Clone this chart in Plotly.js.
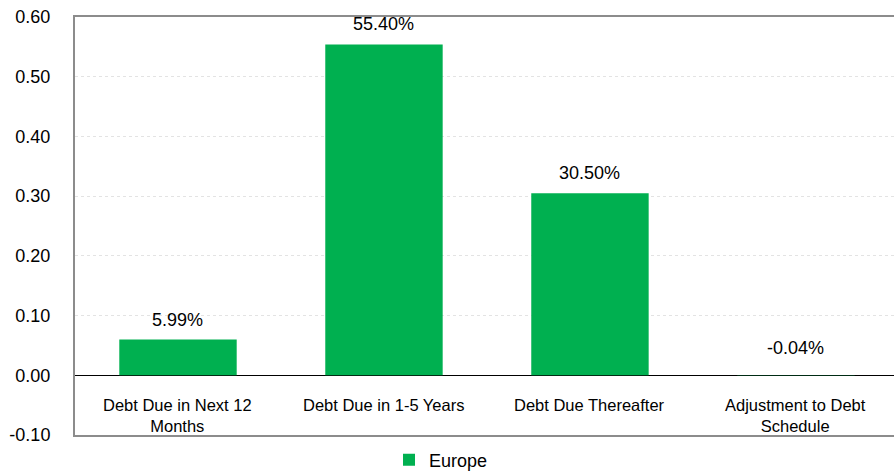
<!DOCTYPE html>
<html>
<head>
<meta charset="utf-8">
<script src="https://cdn.plot.ly/plotly-3.0.1.min.js"></script>
<style>html,body{margin:0;padding:0;background:#fff;}#chart{width:894px;height:474px;}</style>
</head>
<body>
<div id="chart"></div>
<script>
var categories = ["Debt Due in Next 12<br>Months", "Debt Due in 1-5 Years", "Debt Due Thereafter", "Adjustment to Debt<br>Schedule"];
var europe = [0.0599, 0.554, 0.305, -0.0004];
var labels = ["5.99%", "55.40%", "30.50%", "-0.04%"];
var yTicks = [-0.1, 0, 0.1, 0.2, 0.3, 0.4, 0.5, 0.6];
var yTickText = ["-0.10", "0.00", "0.10", "0.20", "0.30", "0.40", "0.50", "0.60"];

var xs = categories.map(function(c, i){ return i; });
var font = "Liberation Sans, Arial, sans-serif";

var trace = {
  type: "bar",
  x: xs,
  y: europe,
  name: "Europe",
  marker: {color: "#00B050"},
  hoverinfo: "none"
};

var annotations = [];
europe.forEach(function(v, i){
  annotations.push({
    x: i, y: Math.max(v, 0), xref: "x", yref: "y",
    text: labels[i], showarrow: false,
    yanchor: "bottom", yshift: v < 0 ? 15 : 8,
    font: {family: font, size: 18, color: "#000"}
  });
  annotations.push({
    x: i, y: 0, xref: "x", yref: "y",
    text: categories[i], showarrow: false,
    yanchor: "top", yshift: -19,
    font: {family: font, size: 16.5, color: "#000"}
  });
});

var layout = {
  width: 894, height: 474,
  margin: {l: 75, r: 0, t: 17, b: 39, autoexpand: false},
  paper_bgcolor: "#fff", plot_bgcolor: "#fff",
  bargap: 0.43,
  showlegend: true,
  legend: {orientation: "h", x: 0.3834, xanchor: "left", y: -0.06, yanchor: "middle",
           itemwidth: 30,
           font: {family: font, size: 18, color: "#000"}},
  xaxis: {
    range: [-0.5, 3.476], showticklabels: false, ticks: "",
    showgrid: false, zeroline: false,
    showline: true, linecolor: "#8c8c8c", linewidth: 2, mirror: true
  },
  yaxis: {
    range: [-0.1, 0.6], tickvals: yTicks, ticktext: yTickText,
    tickfont: {family: font, size: 18, color: "#000"},
    ticklabelstandoff: 19,
    showgrid: true, gridcolor: "#e3e3e3", griddash: "dot", gridwidth: 1,
    zeroline: true, zerolinecolor: "#000", zerolinewidth: 1.5,
    showline: true, linecolor: "#8c8c8c", linewidth: 2
  },
  annotations: annotations
};

Plotly.newPlot("chart", [trace], layout, {displayModeBar: false, staticPlot: true});
</script>
</body>
</html>
